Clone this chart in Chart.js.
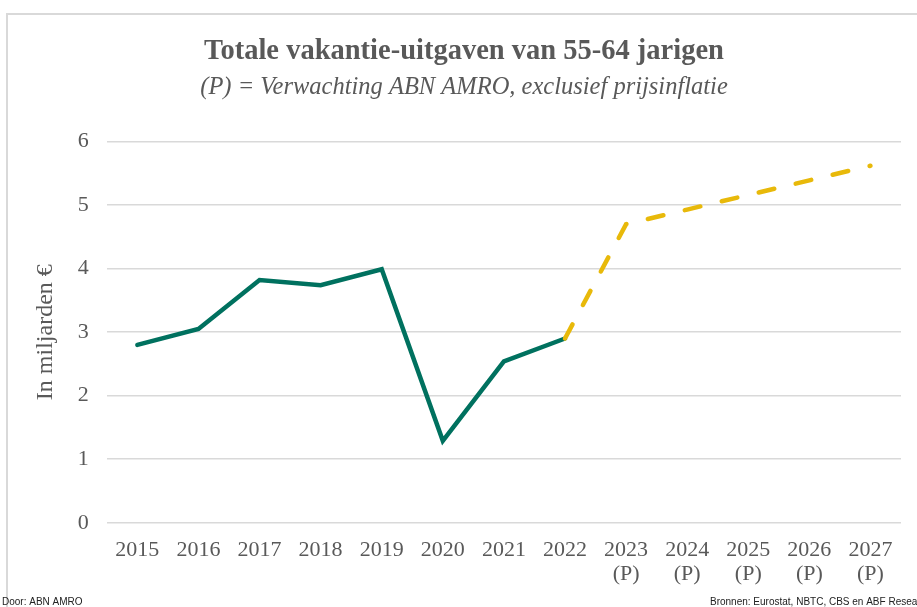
<!DOCTYPE html>
<html>
<head>
<meta charset="utf-8">
<script src="https://cdn.jsdelivr.net/npm/chart.js@4/dist/chart.umd.min.js"></script>
<style>
  html, body { margin: 0; padding: 0; background: #fff; }
  #wrap { width: 917px; height: 607px; position: relative; }
</style>
</head>
<body>
<div id="wrap"><canvas id="chart" width="917" height="607"></canvas></div>
<script>
const years = ["2015","2016","2017","2018","2019","2020","2021","2022","2023","2024","2025","2026","2027"];
const xLabels = ["2015","2016","2017","2018","2019","2020","2021","2022",["2023","(P)"],["2024","(P)"],["2025","(P)"],["2026","(P)"],["2027","(P)"]];
const actual = [2.80, 3.05, 3.82, 3.74, 3.99, 1.29, 2.54, 2.90, null, null, null, null, null];
const forecast = [null, null, null, null, null, null, null, 2.90, 4.70, 4.93, 5.16, 5.39, 5.62];

const grey = '#595959';
const serif = "'Liberation Serif', 'DejaVu Serif', serif";

// border box + footer texts
const frame = {
  id: 'frame',
  beforeDraw(chart) {
    const ctx = chart.ctx;
    ctx.save();
    ctx.fillStyle = '#fff';
    ctx.fillRect(0, 0, chart.width, chart.height);
    ctx.strokeStyle = '#d9d9d9';
    ctx.lineWidth = 2;
    ctx.strokeRect(7, 14, 1000, 1000);
    ctx.restore();
  },
  afterDraw(chart) {
    const ctx = chart.ctx;
    ctx.save();
    ctx.fillStyle = '#222';
    ctx.font = "10px 'Liberation Sans Narrow', 'Liberation Sans', Arial, sans-serif";
    ctx.textBaseline = 'alphabetic';
    ctx.fillText('Door: ABN AMRO', 2, 605);
    ctx.fillText('Bronnen: Eurostat, NBTC, CBS en ABF Research', 710, 605);
    ctx.restore();
  }
};

new Chart(document.getElementById('chart'), {
  type: 'line',
  data: {
    labels: xLabels,
    datasets: [
      {
        label: 'Verwachting',
        data: forecast,
        borderColor: '#E8B90A',
        borderWidth: 4.5,
        borderDash: [16, 22],
        borderCapStyle: 'round',
        pointRadius: 0,
        tension: 0,
        spanGaps: false,
        order: 0
      },
      {
        label: 'Uitgaven',
        data: actual,
        borderColor: '#00715F',
        borderWidth: 4.5,
        borderCapStyle: 'round',
        borderJoinStyle: 'miter',
        pointRadius: 0,
        tension: 0,
        order: 1
      }
    ]
  },
  options: {
    responsive: false,
    animation: false,
    layout: { padding: { left: 27, right: 16, top: 16, bottom: 13 } },
    plugins: {
      legend: { display: false },
      tooltip: { enabled: false },
      title: {
        display: true,
        text: 'Totale vakantie-uitgaven van 55-64 jarigen',
        color: grey,
        font: { family: serif, size: 28.5, weight: 'bold' },
        padding: { top: 19, bottom: 4 }
      },
      subtitle: {
        display: true,
        text: '(P) = Verwachting ABN AMRO, exclusief prijsinflatie',
        color: grey,
        font: { family: serif, size: 24.5, style: 'italic' },
        padding: { bottom: 39 }
      }
    },
    scales: {
      x: {
        offset: true,
        grid: { display: false },
        border: { display: false },
        ticks: {
          color: grey,
          font: { family: serif, size: 22, lineHeight: 1.12 },
          maxRotation: 0,
          autoSkip: false,
          padding: 7
        }
      },
      y: {
        min: 0,
        max: 6,
        grid: { color: '#d9d9d9', lineWidth: 1.5, drawTicks: false },
        border: { display: false },
        ticks: {
          stepSize: 1,
          color: grey,
          font: { family: serif, size: 22 },
          padding: 18
        },
        title: {
          display: true,
          text: 'In miljarden €',
          color: grey,
          font: { family: serif, size: 24 },
          padding: { bottom: 0 }
        }
      }
    }
  },
  plugins: [frame]
});
</script>
</body>
</html>
